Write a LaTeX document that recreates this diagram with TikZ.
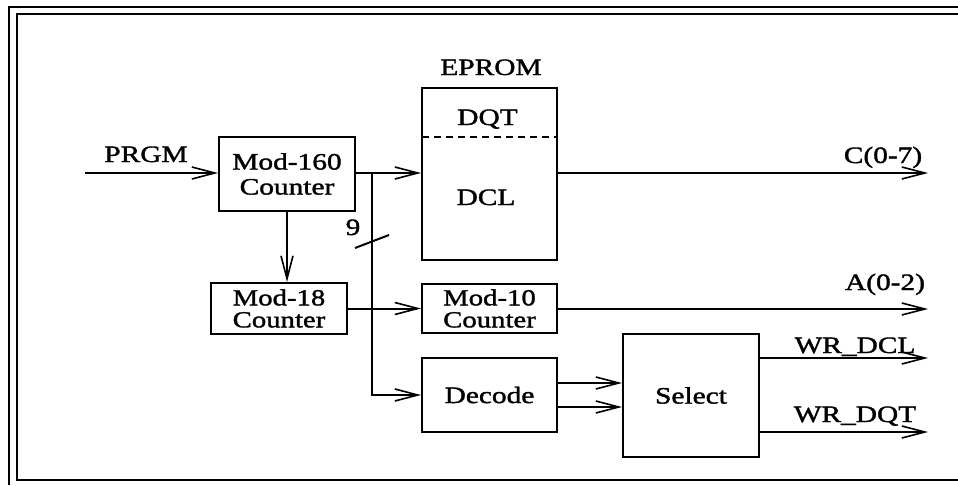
\documentclass[tikz,border=0pt]{standalone}
\usepackage{fontspec}
\setmainfont{Liberation Serif}[FakeStretch=1.25,FakeBold=1.5]
\usetikzlibrary{arrows.meta}
\begin{document}
\begin{tikzpicture}[x=1pt,y=-1pt,
  line width=2pt,
  box/.style={draw,rectangle,inner sep=0pt,align=center},
  arr/.style={-{Straight Barb[length=23pt,width=12pt,line width=1.6pt]}},
  lbl/.style={anchor=base,inner sep=0pt},
  big/.style={font=\fontsize{23.5}{25}\selectfont},
  tight/.style={font=\fontsize{23}{22}\selectfont}]
\useasboundingbox (0,0) rectangle (958,485);
% frame
\draw[line width=1.8pt] (9,485) -- (9,7) -- (958,7);
\draw[line width=1.8pt] (958,480) -- (17,480) -- (17,14) -- (958,14);
% boxes
\node[box,big,minimum width=136pt,minimum height=74pt] (m160) at (287,174) {Mod-160\\Counter};
\node[box,tight,minimum width=136pt,minimum height=51pt] (m18) at (279,308.5) {Mod-18\\Counter};
\node[box,minimum width=135pt,minimum height=172pt] (ep) at (489.5,174) {};
\node[box,tight,minimum width=135pt,minimum height=49pt] (m10) at (489.5,308.5) {Mod-10\\Counter};
\node[box,big,minimum width=135pt,minimum height=74pt] (dec) at (489.5,395) {Decode};
\node[box,big,minimum width=136pt,minimum height=123pt] (sel) at (691,395.5) {Select};
% EPROM internals
\node[lbl,big] (eplbl) at (491,75) {EPROM};
\node[lbl,big] (dqt) at (487.5,125) {DQT};
\node[lbl,big] (dcl) at (486,205) {DCL};
\coordinate (dl) at (422,137);
\draw[dash pattern=on 7pt off 5pt,line width=1.8pt] (dl) -- (dl -| ep.east);
% free ends
\coordinate (pin) at (85,173);
\coordinate (cout) at (928,173);
\coordinate (aout) at (928,309);
\coordinate (wdcl) at (928,358);
\coordinate (wdqt) at (928,432);
\coordinate (br) at (372,173);
% connectors
\draw[arr] (pin) -- (pin -| m160.west);
\draw[arr] (br -| m160.east) -- (br -| ep.west);
\draw[arr] (br) |- (dec.west);
\draw[arr] (m160.south) -- (m160.south |- m18.north);
\draw[arr] (m18.east) -- (m18.east -| m10.west);
\draw[arr] (cout -| ep.east) -- (cout);
\draw[arr] (aout -| m10.east) -- (aout);
\draw[arr] ([yshift=12pt]dec.east) -- ([yshift=12pt]dec.east -| sel.west);
\draw[arr] ([yshift=-12pt]dec.east) -- ([yshift=-12pt]dec.east -| sel.west);
\draw[arr] (wdcl -| sel.east) -- (wdcl);
\draw[arr] (wdqt -| sel.east) -- (wdqt);
% bus slash
\coordinate (s1) at (355,248);
\coordinate (s2) at (389,235);
\draw (s1) -- (s2);
\node[lbl,big] (nine) at (353,235) {9};
% labels
\node[lbl,big] (prgm) at (146,162) {PRGM};
\node[lbl,big] (c07) at (883,163) {C(0-7)};
\node[lbl,big] (a02) at (885,290) {A(0-2)};
\node[lbl,big] (wrdcl) at (855,353) {WR\_DCL};
\node[lbl,big] (wrdqt) at (855,422) {WR\_DQT};
\end{tikzpicture}
\end{document}
